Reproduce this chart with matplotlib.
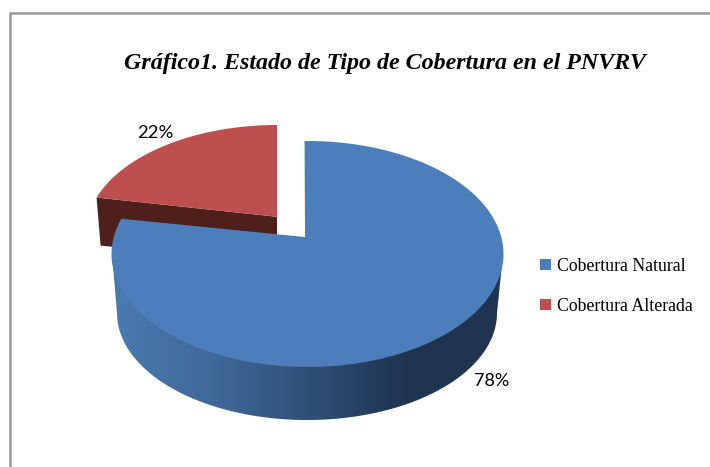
import numpy as np
from matplotlib import pyplot as plt
from matplotlib.colors import LinearSegmentedColormap
from matplotlib.patches import Patch, Polygon

categories = ['Cobertura Natural', 'Cobertura Alterada']
shares = [78, 22]
title = 'Gráfico1. Estado de Tipo de Cobertura en el PNVRV'

BLUE = '#4c7ebb'
RED = '#bd504e'
RED_SIDE = '#4f1f1c'
PERSP = 0.15  # how far the pie centre sits above the ellipse centre


def project(cx, cy, rx, ry, angle):
    # disc point to screen, with a small perspective tilt
    u = np.cos(angle)
    v = np.sin(angle)
    w = 1 + PERSP * v
    return cx + rx * u * np.sqrt(1 - PERSP ** 2) / w, cy - ry * (v + PERSP) / w


def slice_outline(cx, cy, rx, ry, start, share, apex_shift=0):
    # start in degrees, runs counterclockwise for share percent
    angles = np.radians(np.linspace(start, start + share * 3.6, 200))
    x, y = project(cx, cy, rx, ry, angles)
    apex_x = cx + apex_shift
    apex_y = cy - ry * PERSP
    return np.r_[apex_x, x], np.r_[apex_y, y]


plt.rcParams['font.family'] = ['Liberation Serif', 'DejaVu Serif']
fig = plt.figure(figsize=(7.10, 4.67), dpi=100)
ax = fig.add_axes([0, 0, 1, 1])

# chart frame, cropped on the right and at the bottom
ax.plot([10, 10, 710], [467, 13, 13], color='#9a9a9a', lw=1.8, solid_joinstyle='miter')

# red slice, pulled away from the pie
red_x, red_y = slice_outline(277, 233, 191, 108, 90, shares[1])
depth = 48
ax.fill([red_x[-1], red_x[0], red_x[0], red_x[-1] + 4],
        [red_y[-1], red_y[0], red_y[0] + depth, red_y[-1] + depth],
        color=RED_SIDE, lw=0, zorder=2)
ax.fill(red_x, red_y, color=RED, lw=0, zorder=3)

# blue side wall with the horizontal shading
bx, by = 307, 313
brx, bry = 190, 107
t = np.radians(np.linspace(180, 360, 200))
wall_x = np.r_[112, bx + brx * np.cos(t), 503]
wall_y = np.r_[254, by - bry * np.sin(t), 254]
wall = Polygon(np.c_[wall_x, wall_y], closed=True, fc='none', ec='none', transform=ax.transData)
ax.add_patch(wall)
shade = LinearSegmentedColormap.from_list(
    'wall', [(0, '#4a7bb0'), (0.25, '#41699a'), (0.5, '#2f5077'), (0.75, '#1f3552'), (1, '#1f3450')])
img = ax.imshow(np.linspace(0, 1, 256).reshape(1, -1), cmap=shade, extent=[112, 503, 425, 250],
                aspect='auto', zorder=4, interpolation='bilinear')
img.set_clip_path(wall)

# blue slice
blue_x, blue_y = slice_outline(307.5, 254, 196, 113, 91 + shares[1] * 3.6, shares[0], apex_shift=-2.5)
ax.fill(blue_x, blue_y, color=BLUE, lw=0, zorder=5)

ax.text(385, 63, title, fontsize=17.3, fontweight='bold', fontstyle='italic',
        ha='center', va='center', color='black')

ax.text(155, 133, '%d%%' % shares[1], fontsize=13.3, family=['Lato', 'DejaVu Sans'],
        ha='center', va='center', color='black', zorder=6)
ax.text(492, 381, '%d%%' % shares[0], fontsize=13, family=['Lato', 'DejaVu Sans'],
        ha='center', va='center', color='black', zorder=6)

handles = [Patch(color=BLUE, lw=0), Patch(color=RED, lw=0)]
leg = ax.legend(handles, categories, loc='upper left', bbox_to_anchor=(540 / 710, 1 - 258 / 467),
                frameon=False, fontsize=12.8, handlelength=0.6, handleheight=0.6, handletextpad=0.35,
                labelspacing=1.3, borderpad=0, borderaxespad=0)

ax.set_xlim(0, 710)
ax.set_ylim(467, 0)
ax.axis('off')
fig.savefig('out.png', dpi=100)
